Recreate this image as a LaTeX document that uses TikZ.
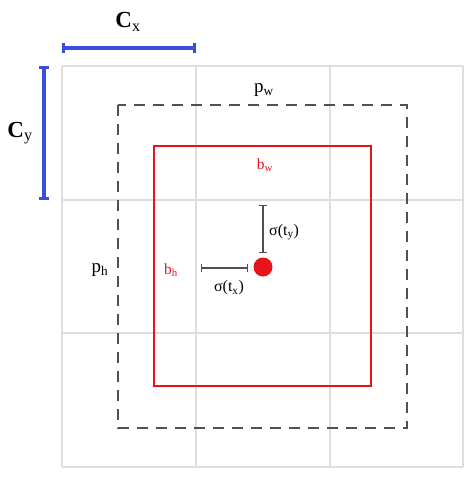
\documentclass[tikz,border=0pt]{standalone}
\usepackage{fontspec}
\setmainfont{Liberation Serif}
\usetikzlibrary{arrows.meta}
\definecolor{gridgrey}{HTML}{DEDEDE}
\definecolor{dashgrey}{HTML}{505050}
\definecolor{barblue}{HTML}{3A4FE0}
\definecolor{boxred}{HTML}{E8141B}
\begin{document}
\begin{tikzpicture}[x=1pt,y=-1pt,
  gridline/.style={draw=gridgrey,line width=2.4pt},
  anchorbox/.style={draw=dashgrey,line width=1.4pt,dash pattern=on 11pt off 8pt},
  predbox/.style={draw=boxred,line width=1.6pt},
  cellbar/.style={draw=barblue,line width=3.4pt,{Bar[width=10pt,line width=2.6pt]}-{Bar[width=10pt,line width=2.6pt]}},
  offbar/.style={draw=dashgrey,line width=1.3pt,{Bar[width=8pt,line width=1.3pt]}-{Bar[width=8pt,line width=1.3pt]}},
  lbl/.style={font=\fontsize{19}{21}\selectfont,inner sep=0pt},
  redlbl/.style={font=\fontsize{15.5}{17}\selectfont,text=boxred,inner sep=0pt},
  sigma/.style={font=\fontsize{16}{18}\selectfont,inner sep=0pt},
  clbl/.style={font=\fontsize{23}{25}\selectfont,inner sep=0pt}]
\useasboundingbox (0,0) rectangle (474,480);
% grid
\foreach \v in {62,196,330,463} {
  \draw[gridline] (\v,66) -- (\v,467);
}
\foreach \h in {66,200,333,467} {
  \draw[gridline] (62,\h) -- (463,\h);
}
% anchor (prior) box
\coordinate (pTL) at (118,105);
\coordinate (pBR) at (407,428);
\draw[anchorbox] (pTL) rectangle (pBR);
% predicted box
\coordinate (bTL) at (154,146);
\coordinate (bBR) at (371,386);
\draw[predbox] (bTL) rectangle (bBR);
% centre
\node[circle,fill=boxred,minimum size=19pt,inner sep=0pt] (ctr) at (263,267) {};
% offsets
\coordinate (tyTop) at (263,205);
\coordinate (tyBot) at (263,253);
\draw[offbar] (tyTop) -- (tyBot);
\coordinate (txL) at (201,268);
\coordinate (txR) at (248,268);
\draw[offbar] (txL) -- (txR);
\node[sigma,anchor=west] (sy) at (269,232) {σ(t\textsubscript{y})};
\node[sigma] (sx) at (229,288) {σ(t\textsubscript{x})};
% cell size bars
\coordinate (cxL) at (62,48);
\coordinate (cxR) at (196,48);
\draw[cellbar] (cxL) -- (cxR);
\coordinate (cyT) at (44,66);
\coordinate (cyB) at (44,200);
\draw[cellbar] (cyT) -- (cyB);
\node[clbl] (cx) at (128,22) {\textbf{C}\textsubscript{x}};
\node[clbl] (cy) at (20,133) {\textbf{C}\textsubscript{y}};
% labels
\node[lbl] (pw) at (264,90) {p\textsubscript{w}};
\node[lbl] (ph) at (100,270) {p\textsubscript{h}};
\node[redlbl] (bw) at (265,165) {b\textsubscript{w}};
\node[redlbl] (bh) at (171,270) {b\textsubscript{h}};
\end{tikzpicture}
\end{document}
